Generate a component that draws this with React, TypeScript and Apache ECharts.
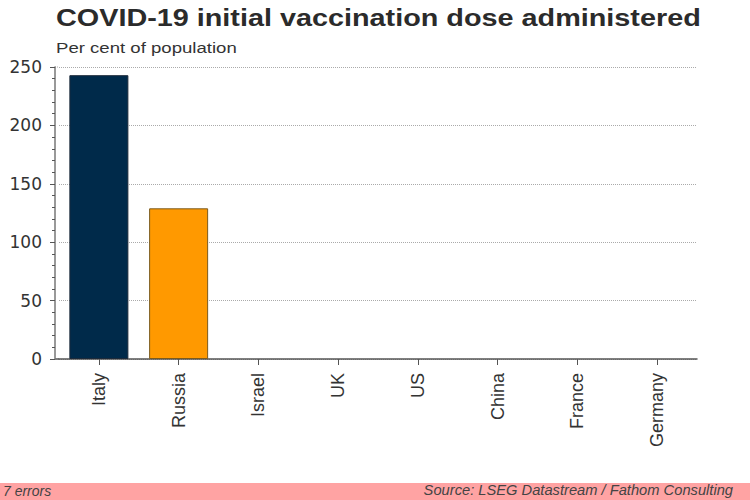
import React, { useEffect, useRef } from "react";
import * as echarts from "echarts";

const categories = ["Italy", "Russia", "Israel", "UK", "US", "China", "France", "Germany"];
const values = [243, 129, 0, 0, 0, 0, 0, 0];
const barColors = ["#002a4a", "#ff9900", "#002a4a", "#002a4a", "#002a4a", "#002a4a", "#002a4a", "#002a4a"];
const barBorders = ["#1c2a3a", "#7a5a1e", "#1c2a3a", "#1c2a3a", "#1c2a3a", "#1c2a3a", "#1c2a3a", "#1c2a3a"];

const FONT = "'Liberation Sans', Arial, sans-serif";

export default function App() {
  const ref = useRef<HTMLDivElement>(null);
  useEffect(() => {
    if (!ref.current) return;
    const chart = echarts.init(ref.current, undefined, { renderer: "svg" });
    chart.setOption({
      animation: false,
      backgroundColor: "#ffffff",
      grid: { left: 59, right: 53, top: 67, bottom: 141, containLabel: false },
      xAxis: {
        type: "category",
        data: categories,
        axisLine: { show: true, lineStyle: { color: "#555555", width: 1.5 } },
        axisTick: { show: true, alignWithLabel: true, length: 6, lineStyle: { color: "#555555" } },
        axisLabel: {
          rotate: 90,
          interval: 0,
          margin: 14,
          fontFamily: FONT,
          fontSize: 18,
          color: "#333333",
        },
      },
      yAxis: {
        type: "value",
        min: 0,
        max: 250,
        interval: 50,
        offset: 4,
        axisLine: { show: true, lineStyle: { color: "#777777", width: 1.5 } },
        axisTick: { show: true, inside: false, length: 5, lineStyle: { color: "#555555" } },
        minorTick: { show: true, splitNumber: 5, length: 3, lineStyle: { color: "#555555" } },
        splitLine: { show: true, lineStyle: { color: "#aaaaaa", type: "dotted", width: 1 } },
        axisLabel: { fontFamily: "'DejaVu Sans', sans-serif", fontSize: 17, color: "#333333", margin: 13 },
      },
      series: [
        {
          type: "bar",
          barWidth: "74%",
          data: values.map((v, i) => ({
            value: v,
            itemStyle: { color: barColors[i], borderColor: barBorders[i], borderWidth: v > 0 ? 1 : 0 },
          })),
        },
      ],
      graphic: [
        {
          type: "line",
          shape: { x1: 55, y1: 359, x2: 59, y2: 359 },
          style: { stroke: "#555555", lineWidth: 1.5 },
        },
        {
          type: "line",
          shape: { x1: 55, y1: 67, x2: 59, y2: 67 },
          style: { stroke: "#aaaaaa", lineWidth: 1, lineDash: [1, 1] },
        },
        {
          type: "text",
          x: 56,
          y: 6,
          scaleX: 1.2,
          style: {
            text: "COVID-19 initial vaccination dose administered",
            font: `bold 24px ${FONT}`,
            fill: "#2b2b2b",
            textVerticalAlign: "top",
          },
        },
        {
          type: "text",
          x: 56,
          y: 41,
          scaleX: 1.24,
          style: {
            text: "Per cent of population",
            font: `15px ${FONT}`,
            fill: "#333333",
            textVerticalAlign: "top",
          },
        },
        {
          type: "rect",
          left: 0,
          top: 483,
          shape: { width: 750, height: 17 },
          style: { fill: "#ffa3a3" },
        },
        {
          type: "text",
          left: 3,
          top: 484,
          style: { text: "7 errors", font: `italic 14px ${FONT}`, fill: "#444444" },
        },
        {
          type: "text",
          right: 17,
          top: 482,
          style: { text: "Source: LSEG Datastream / Fathom Consulting", font: `italic 14.7px ${FONT}`, fill: "#444444" },
        },
      ],
    });
    return () => chart.dispose();
  }, []);
  return <div ref={ref} style={{ width: 750, height: 500, position: "absolute", left: 0, top: 0 }} />;
}
